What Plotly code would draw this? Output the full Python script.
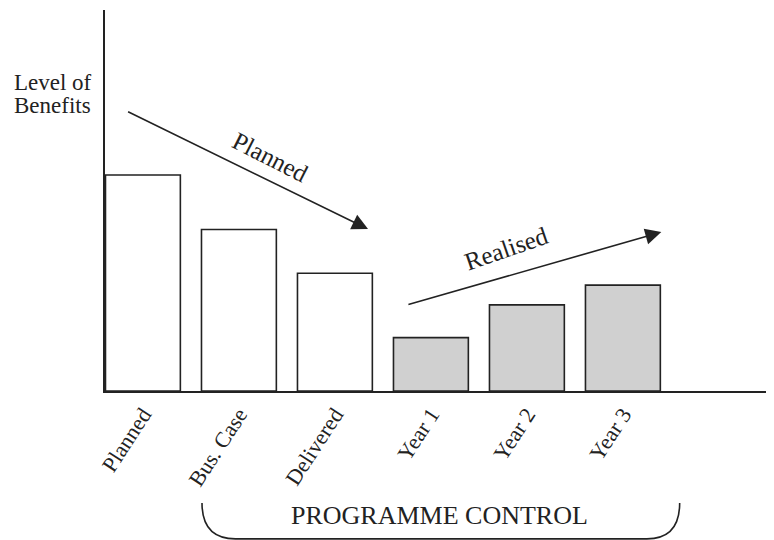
import plotly.graph_objects as go

# bar categories and benefit levels (arbitrary units, 0-100 scale)
stages = ["Planned", "Bus. Case", "Delivered", "Year 1", "Year 2", "Year 3"]
levels = [56.7, 42.4, 30.9, 14.0, 22.6, 27.8]
kinds = ["plan", "plan", "plan", "real", "real", "real"]

# trend arrows: (tail x, tail y, head x, head y) in data units
planned_arrow = [-0.17, 73.5, 2.345, 42.5]
realised_arrow = [2.75, 22.6, 5.40, 41.7]

FONT = "Liberation Serif"
INK = "#222222"
fill = {"plan": "#ffffff", "real": "#d0d0d0"}

fig = go.Figure()
fig.add_trace(go.Bar(
    x=list(range(len(stages))),
    y=levels,
    marker=dict(color=[fill[k] for k in kinds],
                line=dict(color=INK, width=1.6)),
    width=0.78,
    hoverinfo="skip",
))


def arrow(a, **kw):
    return dict(x=a[2], y=a[3], ax=a[0], ay=a[1], xref="x", yref="y",
                axref="x", ayref="y", showarrow=True, arrowhead=2,
                arrowsize=2.0, arrowwidth=1.6, arrowcolor=INK, text="",
                standoff=0, **kw)


def label(x, y, text, size, ref="paper", **kw):
    return dict(x=x, y=y, xref=ref, yref=ref, text=text, showarrow=False,
                yanchor="middle", font=dict(size=size), **kw)


annotations = [
    arrow(planned_arrow),
    arrow(realised_arrow),
    label(1.334, 61.4, "Planned", 25, ref="x", textangle=27,
          xanchor="center"),
    label(3.79, 37.5, "Realised", 25, ref="x", textangle=-19,
          xanchor="center"),
    label(-0.139, 0.81, "Level of", 23, xanchor="left"),
    label(-0.139, 0.75, "Benefits", 23, xanchor="left"),
    label(0.5, -0.328, "PROGRAMME CONTROL", 26, xanchor="center"),
]
annotations[2]["yref"] = "y"
annotations[3]["yref"] = "y"

# curved bracket under the programme-control stages
brace = dict(
    type="path", xref="paper", yref="paper",
    path="M 0.145,-0.294 Q 0.145,-0.388 0.195,-0.388 "
         "L 0.81,-0.388 Q 0.859,-0.388 0.859,-0.294",
    line=dict(color=INK, width=1.6),
)

# page body adds an 8px offset, so the figure is 8px smaller each way
fig.update_layout(
    width=766, height=532,
    margin=dict(l=97, r=0, t=2, b=149),
    paper_bgcolor="white", plot_bgcolor="white",
    font=dict(family=FONT, color=INK, size=22),
    showlegend=False,
    annotations=annotations,
    shapes=[brace],
    xaxis=dict(range=[-0.395, 6.574], tickmode="array",
               tickvals=list(range(len(stages))), ticktext=stages,
               tickangle=-57, ticks="", showgrid=False, zeroline=False,
               showline=True, linecolor=INK, linewidth=1.8,
               tickfont=dict(size=22), fixedrange=True),
    yaxis=dict(range=[0, 100], showticklabels=False, ticks="",
               showgrid=False, zeroline=False, showline=True,
               linecolor=INK, linewidth=1.8, fixedrange=True),
)

fig.write_html("out.html", config={"displayModeBar": False})
